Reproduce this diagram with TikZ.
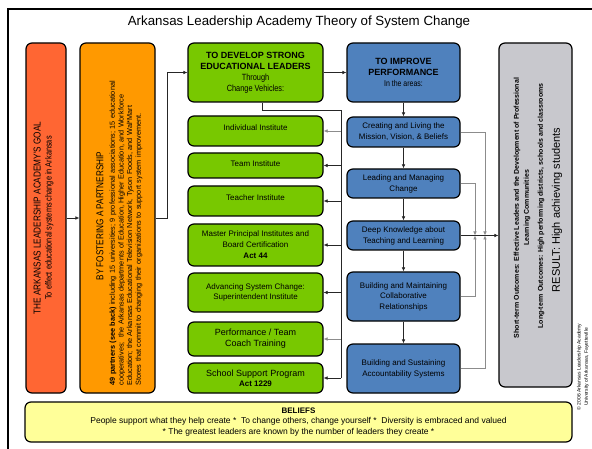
\documentclass[tikz,border=0pt]{standalone}
\usepackage{fontspec}
\setmainfont{Liberation Sans}
\newfontfamily\narrowfont[FakeStretch=0.82]{Liberation Sans}
\usetikzlibrary{arrows.meta}
\definecolor{goalC}{RGB}{255,102,51}
\definecolor{orangeC}{RGB}{255,153,0}
\definecolor{greenC}{RGB}{120,200,0}
\definecolor{blueC}{RGB}{79,129,189}
\definecolor{grayC}{RGB}{200,200,205}
\definecolor{yellowC}{RGB}{255,255,153}
\newcommand\fsz[2]{\fontsize{#1}{#2}\selectfont}
\begin{document}
\begin{tikzpicture}[x=1pt,y=-1pt,
  box/.style={draw=black, line width=1.2pt, rounded corners=6pt, inner sep=1pt, align=center},
  gbox/.style={box, fill=greenC, minimum width=135pt},
  bbox/.style={box, fill=blueC, minimum width=113pt},
  conn/.style={draw=black!85, line width=0.7pt},
  connlight/.style={draw=black!45, line width=0.7pt},
  tip/.style={-{Latex[length=4pt,width=3.6pt]}},
  vtext/.style={rotate=90, inner sep=0pt, align=center}]
\useasboundingbox (0,0) rectangle (592,449);
\draw[line width=1.5pt] (8,9) rectangle (640,490);
\node[inner sep=0pt, font=\fsz{13.3}{15}] (title) at (299,22) {Arkansas Leadership Academy Theory of System Change};

% goal and partnership
\node[box, fill=goalC, minimum width=40pt, minimum height=350pt] (goal) at (46,218) {};
\node[vtext, font=\narrowfont\fsz{10}{11}] (goaltxt) at (43.5,218) {THE ARKANSAS LEADERSHIP ACADEMY'S GOAL\\\fsz{9}{11}To effect educational systems change in Arkansas};
\node[box, fill=orangeC, minimum width=75pt, minimum height=350pt] (orange) at (117.5,218) {};
\node[vtext, font=\narrowfont\fsz{10}{11}] (ortitle) at (100,216) {BY FOSTERING A PARTNERSHIP};
\node[rotate=90, inner sep=0pt, text width=335pt, align=left, font=\fsz{7.3}{8.7}] (orbody) at (126,218) {\textbf{49 partners (see back)} including 15 universities; 9 professional associations; 15 educational\\
cooperatives;~ the Arkansas departments of Education, Higher Education, and Workforce\\
Education; the Arkansas Educational Television Network, Tyson Foods, and Wal*Mart\\
Stores that commit to changing their organizations to support system improvement.};

% green column
\node[gbox, minimum height=59pt, font=\fsz{9}{11}\bfseries] (gtop) at (255.5,72.5) {TO DEVELOP STRONG\\EDUCATIONAL LEADERS\\\mdseries\narrowfont\fsz{9}{10.5}Through\\\mdseries\narrowfont\fsz{9}{10.5}Change Vehicles:};
\node[gbox, minimum height=30pt, font=\fsz{8}{11}, text depth=6pt] (g1) at (255.5,131) {Individual Institute};
\node[gbox, minimum height=25pt, font=\fsz{8}{11}, text depth=3.5pt] (g2) at (255.5,165.5) {Team Institute};
\node[gbox, minimum height=30pt, font=\fsz{8}{11}, text depth=6pt] (g3) at (255.5,201) {Teacher Institute};
\node[gbox, minimum height=42pt, font=\fsz{8}{11}] (g4) at (255.5,245) {Master Principal Institutes and\\Board Certification\\\bfseries Act 44};
\node[gbox, minimum height=39pt, font=\fsz{8}{10.5}] (g5) at (255.5,292.5) {Advancing System Change:\\Superintendent Institute};
\node[gbox, minimum height=34pt, font=\fsz{9}{11}] (g6) at (255.5,339) {Performance / Team\\Coach Training};
\node[gbox, minimum height=30pt, font=\fsz{9}{10}] (g7) at (255.5,378) {School Support Program\\\fsz{8}{10}\bfseries Act 1229};

% blue column
\node[bbox, minimum height=59pt, font=\fsz{9}{11}\bfseries] (btop) at (403.5,72.5) {TO IMPROVE\\PERFORMANCE\\\mdseries\narrowfont\fsz{8.5}{10}In the areas:};
\node[bbox, minimum height=30pt, font=\fsz{8}{11}] (b1) at (403.5,132) {Creating and Living the\\Mission, Vision, \& Beliefs};
\node[bbox, minimum height=29pt, font=\fsz{8}{11}] (b2) at (403.5,183.5) {Leading and Managing\\Change};
\node[bbox, minimum height=29pt, font=\fsz{8}{11}] (b3) at (403.5,235.5) {Deep Knowledge about\\Teaching and Learning};
\node[bbox, minimum height=49pt, font=\fsz{8}{10.5}] (b4) at (403.5,296.5) {Building and Maintaining\\Collaborative\\Relationships};
\node[bbox, minimum height=49pt, font=\fsz{8}{11}] (b5) at (403.5,368.5) {Building and Sustaining\\Accountability Systems};

% outcomes
\node[box, fill=grayC, minimum width=73pt, minimum height=344pt] (outc) at (535.5,215) {};
\node[vtext, font=\fsz{7}{10}\bfseries] (st) at (522,208) {Short-term Outcomes: Effective Leaders and the Development of Professional\\Learning Communities};
\node[vtext, font=\fsz{7}{10}\bfseries] (lt) at (541,206) {Long-term Outcomes: High performing districts, schools and classrooms};
\node[vtext, font=\fsz{11}{13}] (res) at (557,210) {RESULT: High achieving students};
\node[vtext, font=\fsz{5}{7.3}] (copy) at (583,367) {\copyright\ 2006 Arkansas Leadership Academy\\University of Arkansas, Fayetteville};

% beliefs
\node[box, fill=yellowC, minimum width=547pt, minimum height=40pt, font=\fsz{8.5}{10.5}] (beliefs) at (298.5,422) {\fsz{8}{10.5}\bfseries BELIEFS\\People support what they help create *~ To change others, change yourself *~ Diversity is embraced and valued\\* The greatest leaders are known by the number of leaders they create *};

% connectors
\draw[conn, tip] (goal.east) -- (orange.west);
\draw[conn, tip] (orange.east) -- ++(12,0) |- (gtop.west);
\draw[conn, tip] (gtop.east) -- (btop.west);
\coordinate (busT) at (341,110);
\coordinate (busB) at (341,378);
\draw[conn] ([xshift=6.5pt]gtop.south) |- (busT) -- (busB);
\draw[connlight, tip] (busT |- g1.east) -- (g1.east);
\foreach \g in {g2,g3,g4,g5,g7} \draw[conn, tip] (busT |- \g.east) -- (\g.east);
\draw[connlight, tip] (busT |- g6.east) -- (g6.east);
\draw[conn, tip] (btop) -- (b1);
\draw[conn, tip] (b1) -- (b2);
\draw[conn, tip] (b2) -- (b3);
\draw[conn, tip] (b3) -- (b4);
\draw[conn, tip] (b4) -- (b5);
\coordinate (jA) at (475,235.5);
\coordinate (jB) at (485,235.5);
\draw[connlight, tip] (b1.east) -| (jB);
\draw[connlight, tip] (b2.east) -| (jA);
\draw[connlight, tip] (b4.east) -| (jA);
\draw[connlight, tip] (b5.east) -| (jB);
\draw[conn, tip] (b3.east) -- (b3.east -| outc.west);
\end{tikzpicture}
\end{document}
